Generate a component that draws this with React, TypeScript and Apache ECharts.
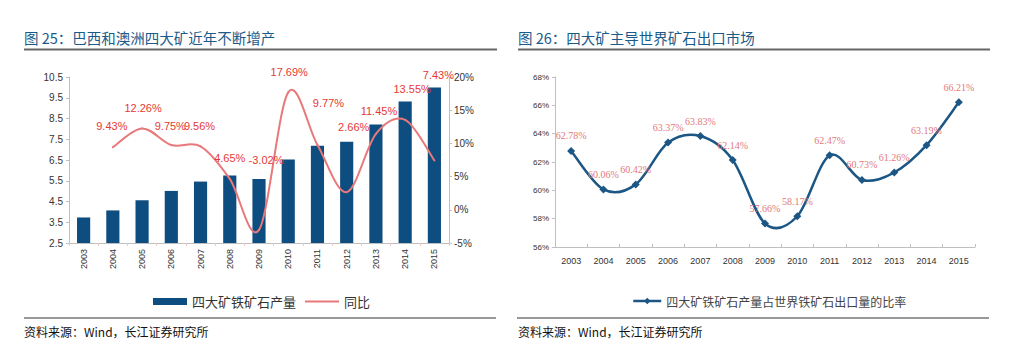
import React, { useEffect, useRef } from "react";
import * as echarts from "echarts";

const years = ["2003","2004","2005","2006","2007","2008","2009","2010","2011","2012","2013","2014","2015"];
const output = [3.73, 4.07, 4.56, 5.01, 5.46, 5.75, 5.59, 6.53, 7.19, 7.38, 8.21, 9.32, 9.99];
const growth = [null, 9.43, 12.26, 9.75, 9.56, 4.65, -3.02, 17.69, 9.77, 2.66, 11.45, 13.55, 7.43];
const share = [62.78, 60.06, 60.42, 63.37, 63.83, 62.14, 57.66, 58.17, 62.47, 60.73, 61.26, 63.19, 66.21];
const leftTicks = { min: 2.5, max: 10.5, interval: 1 };
const rightTicks = { min: -5, max: 20, interval: 5 };
const shareTicks = { min: 56, max: 68, interval: 2 };

// label placement (layout only)
const growthLabelShift = [
  [0, 0], [-1, -21], [1, -20], [-1, -19], [-1, -20], [0, -21], [7, -70],
  [1, -20], [11, -42], [7, -65], [3, -23], [7, -31], [4, -85],
];

const barName = "四大矿铁矿石产量";
const growthName = "同比";
const shareName = "四大矿铁矿石产量占世界铁矿石出口量的比率";

// smooth curve (Catmull-Rom style) through the series points, drawn with the axes' coords
function curveSeries(values: (number | null)[], xAxisIndex: number, yAxisIndex: number, color: string, width: number) {
  const valid = values.map((v, i) => (v == null ? -1 : i)).filter((i) => i >= 0);
  const first = valid[0];
  const last = valid[valid.length - 1];
  const segs: number[] = [];
  for (let i = first; i < last; i++) segs.push(i);
  return {
    type: "custom",
    xAxisIndex, yAxisIndex,
    silent: true,
    z: 3,
    data: segs.map((i) => [i, values[i]]),
    renderItem: (params: any, api: any) => {
      const i = segs[params.dataIndex];
      const pt = (j: number) => {
        const k = Math.max(first, Math.min(last, j));
        return api.coord([k, values[k]]);
      };
      const p0 = pt(i - 1), p1 = pt(i), p2 = pt(i + 1), p3 = pt(i + 2);
      const t = 1 / 6;
      return {
        type: "bezierCurve",
        shape: {
          x1: p1[0], y1: p1[1], x2: p2[0], y2: p2[1],
          cpx1: p1[0] + (p2[0] - p0[0]) * t, cpy1: p1[1] + (p2[1] - p0[1]) * t,
          cpx2: p2[0] - (p3[0] - p1[0]) * t, cpy2: p2[1] - (p3[1] - p1[1]) * t,
        },
        style: { stroke: color, lineWidth: width, fill: "none", lineCap: "round" },
      };
    },
  };
}

export default function App() {
  const ref = useRef<HTMLDivElement>(null);
  useEffect(() => {
    if (!ref.current) return;
    const chart = echarts.init(ref.current, undefined, { renderer: "svg" });
    const axisGray = "#bfbfbf";
    const font = "Arial, 'Liberation Sans', 'Noto Sans CJK SC', sans-serif";
    const cjk = "'Noto Sans CJK SC', sans-serif";
    const red = "#e8787a";
    const blue = "#1b5684";
    chart.setOption({
      animation: false,
      backgroundColor: "#ffffff",
      textStyle: { fontFamily: font },
      grid: [
        { left: 69, top: 77, width: 380, height: 166 },
        { left: 555, top: 77, width: 420, height: 170 },
      ],
      xAxis: [
        {
          type: "category", gridIndex: 0, data: years,
          axisLine: { onZero: false, lineStyle: { color: axisGray } },
          axisTick: { show: true, lineStyle: { color: "#e8c8c8" }, length: 3 },
          axisLabel: { rotate: 90, fontSize: 9, color: "#333", margin: 6, fontFamily: font },
        },
        {
          type: "category", gridIndex: 1, data: years,
          axisLine: { onZero: false, lineStyle: { color: axisGray } },
          axisTick: { show: true, lineStyle: { color: axisGray }, length: 3, inside: true },
          axisLabel: { fontSize: 9, color: "#333", margin: 9, fontFamily: font },
        },
      ],
      yAxis: [
        {
          type: "value", gridIndex: 0, ...leftTicks,
          splitLine: { show: false },
          axisLine: { show: true, lineStyle: { color: axisGray } },
          axisTick: { show: true, length: 3, lineStyle: { color: axisGray } },
          axisLabel: { fontSize: 10, color: "#333", margin: 6, formatter: (v: number) => v.toFixed(1) },
        },
        {
          type: "value", gridIndex: 0, position: "right", ...rightTicks,
          splitLine: { show: false },
          axisLine: { show: true, lineStyle: { color: axisGray } },
          axisTick: { show: true, length: 3, lineStyle: { color: axisGray } },
          axisLabel: { fontSize: 10, color: "#333", margin: 5, formatter: (v: number) => v + "%" },
        },
        {
          type: "value", gridIndex: 1, ...shareTicks,
          splitLine: { show: false },
          axisLine: { show: true, lineStyle: { color: axisGray } },
          axisTick: { show: true, length: 3, lineStyle: { color: axisGray } },
          axisLabel: { fontSize: 8, color: "#333", margin: 6, formatter: (v: number) => v + "%" },
        },
      ],
      legend: [
        {
          left: 148, top: 290, itemGap: 8, itemWidth: 34, itemHeight: 7,
          textStyle: { fontSize: 13, color: "#333", fontFamily: cjk },
          data: [
            { name: barName, icon: "rect" },
            { name: growthName, lineStyle: { color: red, width: 2, opacity: 1 } },
          ],
        },
        {
          left: 627, top: 290, itemWidth: 28, itemHeight: 8,
          textStyle: { fontSize: 12, color: "#444", fontFamily: cjk },
          data: [{ name: shareName, lineStyle: { color: blue, width: 2.5, opacity: 1 } }],
        },
      ],
      series: [
        {
          name: barName, type: "bar", xAxisIndex: 0, yAxisIndex: 0, data: output,
          barWidth: "45%", itemStyle: { color: "#0d4d80" },
        },
        curveSeries(growth, 0, 1, red, 2),
        {
          name: growthName, type: "line", xAxisIndex: 0, yAxisIndex: 1,
          data: growth.map((v, i) => ({
            value: v,
            label: { offset: growthLabelShift[i] },
          })),
          symbol: "circle", symbolSize: 1,
          itemStyle: { color: "rgba(0,0,0,0)" },
          lineStyle: { color: red, width: 2, opacity: 0 },
          label: {
            show: true, position: "inside", fontSize: 11, color: "#e53935",
            formatter: (p: any) => p.value.toFixed(2) + "%",
          },
          z: 5,
        },
        curveSeries(share, 1, 2, blue, 2.5),
        {
          name: shareName, type: "line", xAxisIndex: 1, yAxisIndex: 2, data: share,
          symbol: "diamond", symbolSize: 8,
          itemStyle: { color: blue },
          lineStyle: { color: blue, width: 2.5, opacity: 0 },
          label: {
            show: true, position: "top", distance: 6, fontSize: 10, color: "#e07a7a",
            fontFamily: "'Liberation Serif', 'DejaVu Serif', serif",
            formatter: (p: any) => p.value.toFixed(2) + "%",
          },
          z: 5,
        },
      ],
      graphic: [
        { type: "text", left: 24, top: 30, style: { text: "图 25：巴西和澳洲四大矿近年不断增产", fontSize: 14.5, fill: "#1a5b8a", fontFamily: cjk } },
        { type: "line", shape: { x1: 24, y1: 49.5, x2: 497, y2: 49.5 }, style: { stroke: "#666", lineWidth: 2 } },
        { type: "text", left: 518, top: 30, style: { text: "图 26：四大矿主导世界矿石出口市场", fontSize: 14.5, fill: "#1a5b8a", fontFamily: cjk } },
        { type: "line", shape: { x1: 518, y1: 49.5, x2: 990, y2: 49.5 }, style: { stroke: "#666", lineWidth: 2 } },
        { type: "line", shape: { x1: 24, y1: 318, x2: 496, y2: 318 }, style: { stroke: "#333", lineWidth: 1 } },
        { type: "line", shape: { x1: 517, y1: 318, x2: 989, y2: 318 }, style: { stroke: "#333", lineWidth: 1 } },
        { type: "text", left: 24, top: 325, style: { text: "资料来源：Wind，长江证券研究所", fontSize: 12, fill: "#111", fontFamily: cjk } },
        { type: "text", left: 518, top: 325, style: { text: "资料来源：Wind，长江证券研究所", fontSize: 12, fill: "#111", fontFamily: cjk } },
      ],
    });
    return () => chart.dispose();
  }, []);
  return <div ref={ref} style={{ position: "absolute", left: 0, top: 0, width: 1024, height: 351 }} />;
}
